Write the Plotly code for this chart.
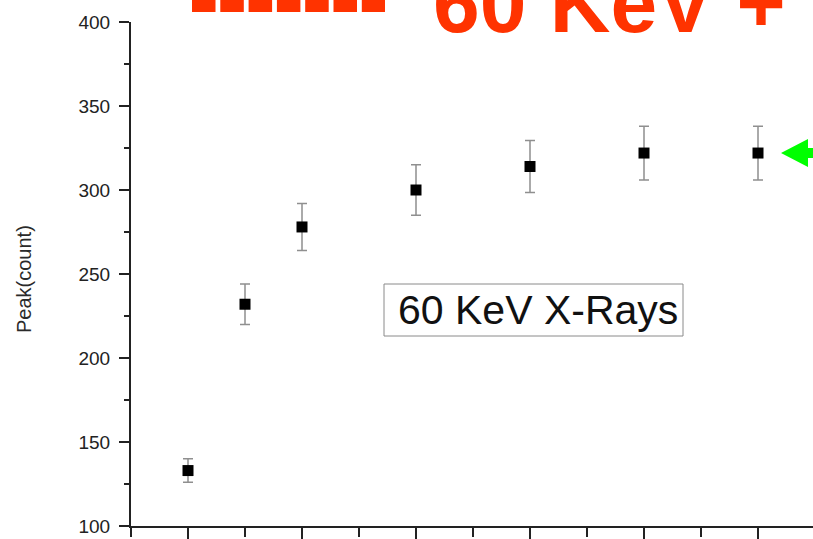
import plotly.graph_objects as go

# ---- data ----
thickness = [0, 0.5, 1, 2, 3, 4, 5]
peak_count = [133, 232, 278, 300, 314, 322, 322]
peak_error = [7, 12, 14, 15, 15.5, 16, 16]
y_tick_vals = [100, 150, 200, 250, 300, 350, 400]
y_tick_text = ["100", "150", "200", "250", "300", "350", "400"]

W, H = 813, 539
L, R, T, B = 131, 0, 22, 13
PW, PH = W - L - R, H - T - B


def px(x):
    return (x - L) / PW


def py(y):
    return (H - B - y) / PH


fig = go.Figure()
fig.add_trace(go.Scatter(
    x=thickness, y=peak_count, mode="markers",
    marker=dict(symbol="square", size=11, color="black"),
    error_y=dict(type="data", array=peak_error, color="#8f8f8f",
                 thickness=1.5, width=5),
    showlegend=False,
))

axis_color = "#222222"
fig.update_xaxes(
    range=[-0.5, -0.5 + PW / 114.0], showline=True, linecolor=axis_color,
    linewidth=2, ticks="outside", ticklen=13, tickwidth=1.5,
    tickcolor=axis_color, tick0=0, dtick=1, showticklabels=False,
    showgrid=False, zeroline=False, automargin=False,
    minor=dict(ticks="outside", ticklen=9, dtick=0.5, tick0=0,
               tickcolor=axis_color, tickwidth=1.5, showgrid=False),
)
fig.update_yaxes(
    range=[100, 400], showline=True, linecolor=axis_color, linewidth=2,
    ticks="outside", ticklen=10, tickwidth=1.5, tickcolor=axis_color,
    tickvals=y_tick_vals, ticktext=y_tick_text,
    tickfont=dict(family="Liberation Sans, Arial", size=19, color="#222222"),
    ticklabelstandoff=5,
    showgrid=False, zeroline=False, automargin=False,
    minor=dict(ticks="outside", ticklen=5, dtick=25, tick0=100,
               tickcolor=axis_color, tickwidth=1.5, showgrid=False),
)

# y-axis title
fig.add_annotation(text="Peak(count)", xref="paper", yref="paper",
                   x=px(24), y=py(279), xanchor="center", yanchor="middle",
                   textangle=-90, showarrow=False,
                   font=dict(family="Liberation Sans, Arial", size=20,
                             color="#2a2a2a"))

# red dashed decoration at top
fig.add_shape(type="line", xref="paper", yref="paper",
              x0=px(192), x1=px(385), y0=py(6), y1=py(6),
              line=dict(color="#ff3300", width=12, dash="23.5px,4.8px"))

# big red heading (partly cut off at top, as in the reference)
fig.add_annotation(text="<b>60 KeV +</b>", xref="paper", yref="paper",
                   x=px(431), y=py(3), xanchor="left", yanchor="middle",
                   showarrow=False,
                   font=dict(family="Liberation Sans, Arial", size=84,
                             color="#ff3300"))

# text box label
fig.add_shape(type="rect", xref="paper", yref="paper",
              x0=px(384), x1=px(683), y0=py(336), y1=py(284),
              line=dict(color="#8a8a8a", width=1), fillcolor="white",
              layer="below")
fig.add_annotation(text="60 KeV X-Rays", xref="paper", yref="paper",
                   x=px(538), y=py(310.4), xanchor="center", yanchor="middle",
                   showarrow=False,
                   font=dict(family="Liberation Sans, Arial", size=41,
                             color="#111111"))

# green arrow on the right
arrow_path = "M {} {} L {} {} L {} {} L {} {} L {} {} L {} {} L {} {} Z".format(
    px(781), py(153), px(808), py(139), px(808), py(148), px(830), py(148),
    px(830), py(158), px(808), py(158), px(808), py(167))
fig.add_shape(type="path", xref="paper", yref="paper", path=arrow_path,
              fillcolor="#00ff00", line=dict(color="#00ff00", width=0))

fig.update_layout(
    width=W, height=H,
    margin=dict(l=L, r=R, t=T, b=B, pad=0),
    paper_bgcolor="white", plot_bgcolor="white",
    showlegend=False,
)

fig.write_html(
    "out.html",
    config={"displayModeBar": False},
    post_script="document.body.style.margin='0';"
                "document.body.style.overflow='hidden';",
)
